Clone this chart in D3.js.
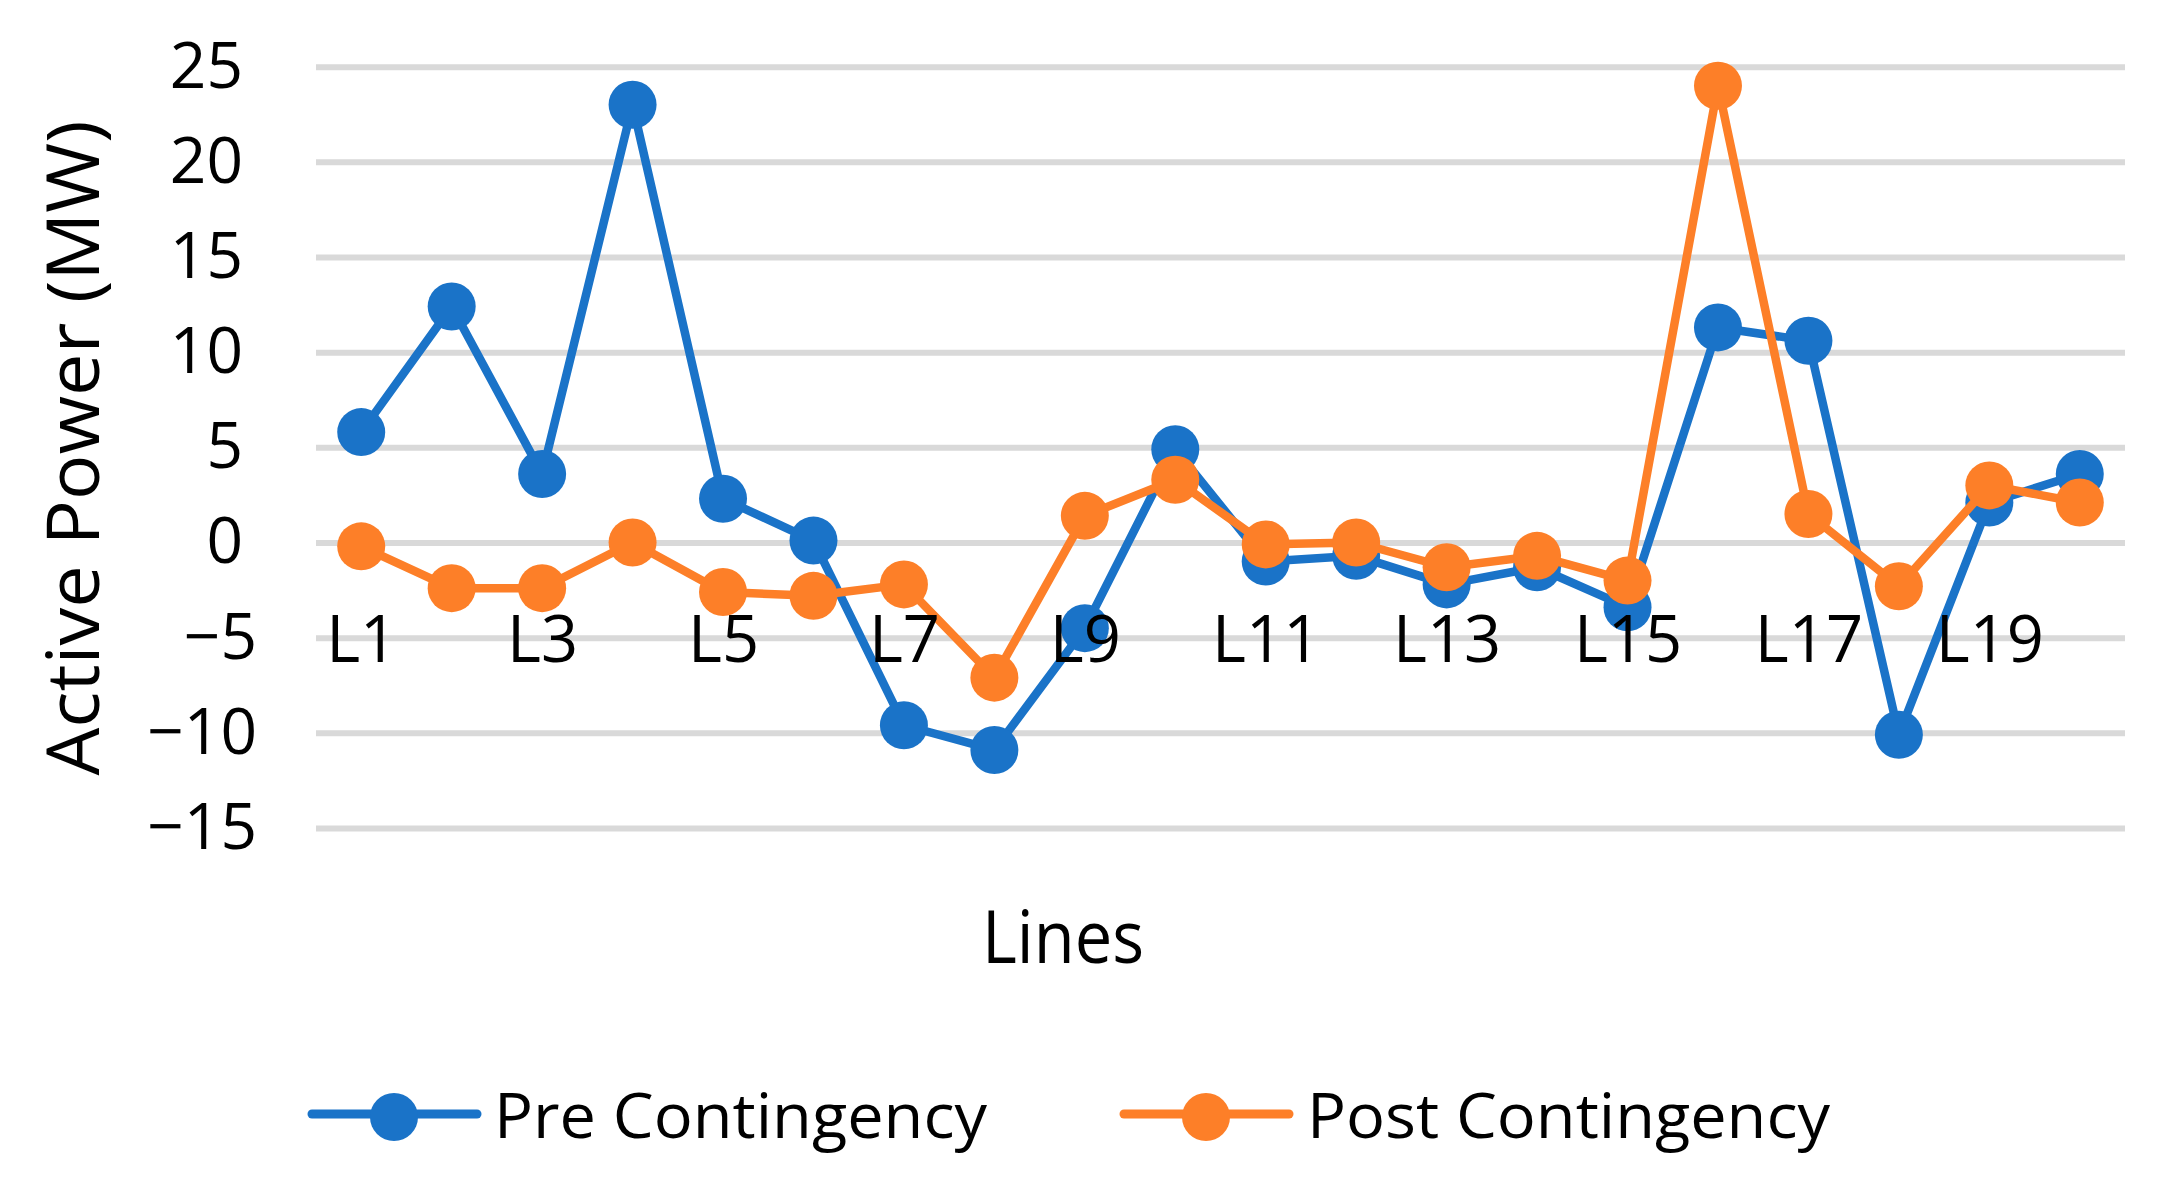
<!DOCTYPE html>
<html>
<head>
<meta charset="utf-8">
<script src="https://cdn.jsdelivr.net/npm/d3@7"></script>
<style>
  html, body { margin: 0; padding: 0; background: #fff; }
  svg { display: block; }
  text { font-family: "Open Sans", "Noto Sans", sans-serif; fill: #000; }
</style>
</head>
<body>
<svg id="chart" width="2175" height="1184"></svg>
<script>
// ---- data ----
const categories = ["L1","L2","L3","L4","L5","L6","L7","L8","L9","L10",
                    "L11","L12","L13","L14","L15","L16","L17","L18","L19","L20"];
const preContingency  = [5.8, 12.4, 3.6, 23.0, 2.3, 0.1, -9.6, -10.9, -4.5, 4.9,
                         -1.0, -0.7, -2.2, -1.3, -3.4, 11.3, 10.6, -10.1, 2.1, 3.6];
const postContingency = [-0.2, -2.4, -2.4, 0.0, -2.6, -2.8, -2.2, -7.1, 1.4, 3.3,
                         -0.1, 0.0, -1.3, -0.7, -2.0, 24.0, 1.5, -2.3, 3.0, 2.1];
const yTicks = [-15, -10, -5, 0, 5, 10, 15, 20, 25];
const xTickLabels = ["L1","L3","L5","L7","L9","L11","L13","L15","L17","L19"];
const seriesNames = ["Pre Contingency", "Post Contingency"];

// ---- layout ----
const W = 2175, H = 1184;
const plot = { left: 316, right: 2125, top: 66.7, bottom: 828 };
const colors = ["#1A73C8", "#FD7F28"];

const svg = d3.select("#chart");
svg.append("rect").attr("width", W).attr("height", H).attr("fill", "#fff");

const x = d3.scalePoint().domain(categories).range([plot.left, plot.right]).padding(0.5);
const y = d3.scaleLinear().domain([-15, 25]).range([plot.bottom, plot.top]);

// gridlines + y labels
const yAxis = d3.axisLeft(y).tickValues(yTicks)
  .tickSize(-(plot.right - plot.left))
  .tickFormat(d3.format("d"));
const gy = svg.append("g").attr("transform", `translate(${plot.left},0)`).call(yAxis);
gy.select(".domain").remove();
gy.selectAll(".tick line").attr("stroke", "#D9D9D9").attr("stroke-width", 6);
gy.selectAll(".tick text")
  .attr("x", d => (d < 0 ? 257 : 243) - plot.left)
  .attr("dy", "0.32em")
  .attr("font-size", 64)
  .attr("text-anchor", "end")
  .style("font-family", '"Open Sans", sans-serif')
  .attr("fill", "#000");

// series
const line = d3.line().x((d, i) => x(categories[i])).y(d => y(d));
[preContingency, postContingency].forEach((vals, si) => {
  const g = svg.append("g");
  g.append("path").datum(vals)
    .attr("d", line)
    .attr("fill", "none")
    .attr("stroke", colors[si])
    .attr("stroke-width", 8.5)
    .attr("stroke-linejoin", "round")
    .attr("stroke-linecap", "round");
  g.selectAll("circle").data(vals).join("circle")
    .attr("cx", (d, i) => x(categories[i]))
    .attr("cy", d => y(d))
    .attr("r", 24)
    .attr("fill", colors[si]);
});

// x labels (drawn on top)
const xAxis = d3.axisBottom(x).tickValues(xTickLabels).tickSize(0).tickPadding(0);
const gx = svg.append("g").attr("transform", `translate(0,0)`).call(xAxis);
gx.select(".domain").remove();
gx.selectAll(".tick text")
  .attr("y", 662)
  .attr("dy", 0)
  .attr("font-size", 65)
  .style("font-family", '"Open Sans", sans-serif')
  .attr("fill", "#000");

// axis titles
svg.append("text")
  .attr("x", 1063).attr("y", 963)
  .attr("text-anchor", "middle")
  .attr("font-size", 73)
  .attr("textLength", 162).attr("lengthAdjust", "spacingAndGlyphs")
  .text("Lines");

svg.append("text")
  .attr("transform", "translate(99,448) rotate(-90)")
  .attr("text-anchor", "middle")
  .attr("font-size", 73)
  .attr("textLength", 655).attr("lengthAdjust", "spacingAndGlyphs")
  .text("Active Power (MW)");

// legend
const legendItems = [
  { name: seriesNames[0], color: colors[0], x1: 312, x2: 477, cx: 394, tx: 494, tl: 493 },
  { name: seriesNames[1], color: colors[1], x1: 1124, x2: 1289, cx: 1206, tx: 1307, tl: 523 }
];
const lg = svg.append("g");
legendItems.forEach(it => {
  lg.append("line")
    .attr("x1", it.x1).attr("x2", it.x2).attr("y1", 1114).attr("y2", 1114)
    .attr("stroke", it.color).attr("stroke-width", 9).attr("stroke-linecap", "round");
  lg.append("circle").attr("cx", it.cx).attr("cy", 1117).attr("r", 24).attr("fill", it.color);
  lg.append("text").attr("x", it.tx).attr("y", 1138)
    .attr("font-size", 63)
    .attr("textLength", it.tl).attr("lengthAdjust", "spacingAndGlyphs")
    .text(it.name);
});
</script>
</body>
</html>
